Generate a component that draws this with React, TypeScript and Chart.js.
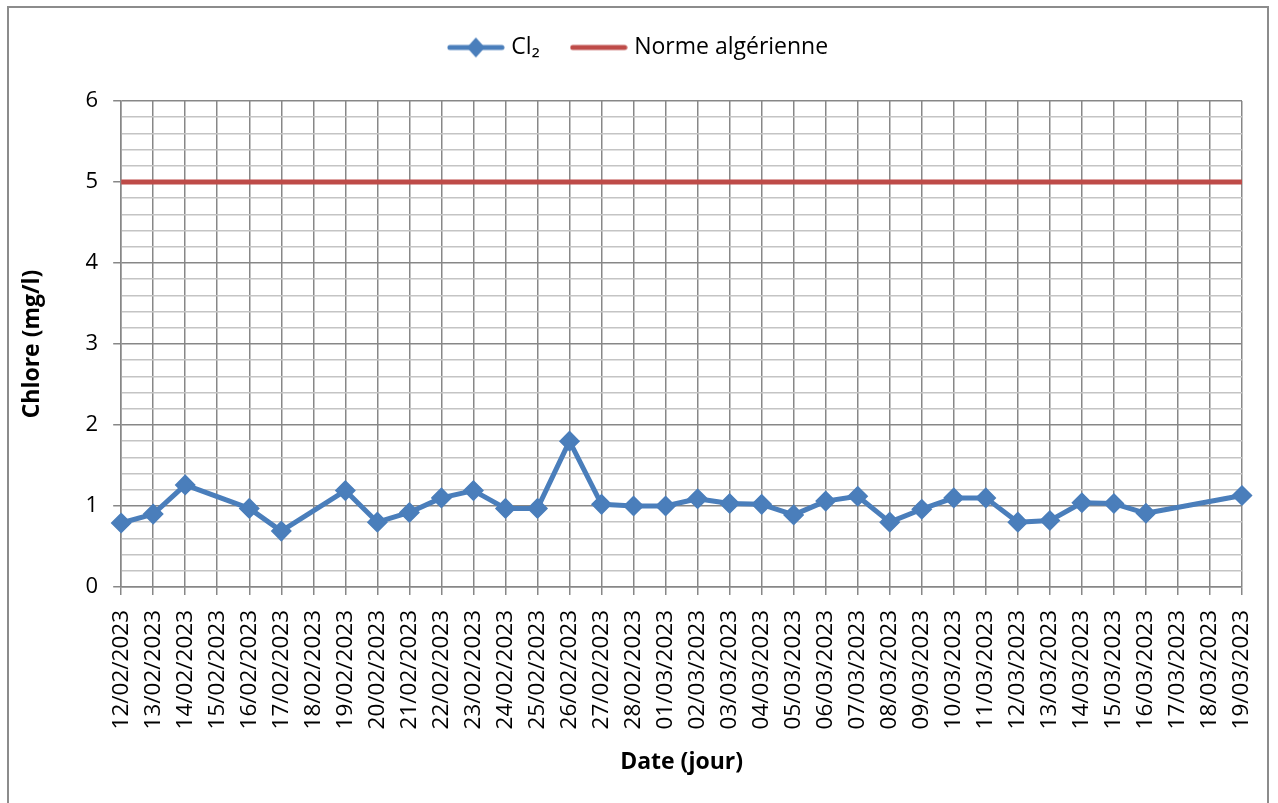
import React, { useEffect, useRef } from "react";
import { Chart, registerables } from "chart.js";

Chart.register(...registerables);

const dates: string[] = [
  "12/02/2023", "13/02/2023", "14/02/2023", "15/02/2023", "16/02/2023", "17/02/2023",
  "18/02/2023", "19/02/2023", "20/02/2023", "21/02/2023", "22/02/2023", "23/02/2023",
  "24/02/2023", "25/02/2023", "26/02/2023", "27/02/2023", "28/02/2023", "01/03/2023",
  "02/03/2023", "03/03/2023", "04/03/2023", "05/03/2023", "06/03/2023", "07/03/2023",
  "08/03/2023", "09/03/2023", "10/03/2023", "11/03/2023", "12/03/2023", "13/03/2023",
  "14/03/2023", "15/03/2023", "16/03/2023", "17/03/2023", "18/03/2023", "19/03/2023",
];

const chlore: (number | null)[] = [
  0.79, 0.9, 1.26, null, 0.97, 0.69,
  null, 1.19, 0.8, 0.92, 1.1, 1.19,
  0.97, 0.97, 1.8, 1.02, 1.0, 1.0,
  1.09, 1.03, 1.02, 0.89, 1.06, 1.12,
  0.8, 0.96, 1.1, 1.1, 0.8, 0.82,
  1.04, 1.03, 0.91, null, null, 1.13,
];

const normeAlgerienne: number[] = [
  5, 5, 5, 5, 5, 5,
  5, 5, 5, 5, 5, 5,
  5, 5, 5, 5, 5, 5,
  5, 5, 5, 5, 5, 5,
  5, 5, 5, 5, 5, 5,
  5, 5, 5, 5, 5, 5,
];

const seriesLabels = ["Cl\u2082", "Norme algérienne"];
const yTitle = "Chlore (mg/l)";
const xTitle = "Date (jour)";

const BLUE = "#4A7EBB";
const RED = "#BE4B48";
const GRID_DARK = "#878787";
const GRID_LIGHT = "#c4c4c4";
const FONT = "'Open Sans', 'DejaVu Sans', sans-serif";

function makeMarker(color: string, diamond: boolean): HTMLCanvasElement {
  const c = document.createElement("canvas");
  c.width = 58;
  c.height = 22;
  const g = c.getContext("2d")!;
  g.strokeStyle = color;
  g.lineWidth = 5;
  g.lineCap = "round";
  g.beginPath();
  g.moveTo(3, 11);
  g.lineTo(55, 11);
  g.stroke();
  if (diamond) {
    g.fillStyle = color;
    g.beginPath();
    g.moveTo(29, 1);
    g.lineTo(38, 11);
    g.lineTo(29, 21);
    g.lineTo(20, 11);
    g.closePath();
    g.fill();
  }
  return c;
}

const isMajor = (v: number) => Math.abs(v - Math.round(v)) < 1e-6;

const legendSpacer = {
  id: "legendSpacer",
  beforeInit(chart: any) {
    const legend = chart.legend;
    if (!legend) return;
    const origFit = legend.fit;
    legend.fit = function () {
      origFit.call(this);
      this.height += 32;
    };
  },
};

export default function App() {
  const ref = useRef<HTMLCanvasElement | null>(null);

  useEffect(() => {
    if (!ref.current) return;
    const markers = [makeMarker(BLUE, true), makeMarker(RED, false)];
    const chart = new Chart(ref.current, {
      type: "line",
      data: {
        labels: dates,
        datasets: [
          {
            label: seriesLabels[0],
            data: chlore,
            borderColor: BLUE,
            backgroundColor: BLUE,
            borderWidth: 5,
            borderCapStyle: "round",
            borderJoinStyle: "round",
            pointStyle: "rectRot",
            pointRadius: 9.5,
            pointBorderWidth: 1.5,
            pointBackgroundColor: BLUE,
            pointBorderColor: BLUE,
            spanGaps: true,
            tension: 0,
          },
          {
            label: seriesLabels[1],
            data: normeAlgerienne,
            borderColor: RED,
            backgroundColor: RED,
            borderWidth: 5,
            pointRadius: 0,
            tension: 0,
          },
        ],
      },
      plugins: [legendSpacer],
      options: {
        animation: false,
        responsive: false,
        maintainAspectRatio: false,
        layout: { padding: { left: 19, right: 17, top: 1, bottom: 27 } },
        plugins: {
          tooltip: { enabled: false },
          legend: {
            position: "top",
            align: "center",
            labels: {
              usePointStyle: true,
              pointStyleWidth: 48,
              padding: 35,
              color: "#000",
              font: { family: FONT, size: 23 },
              generateLabels: (ch: any) =>
                ch.data.datasets.map((ds: any, i: number) => ({
                  text: ds.label,
                  pointStyle: markers[i],
                  fillStyle: ds.borderColor,
                  strokeStyle: ds.borderColor,
                  lineWidth: 0,
                  hidden: false,
                  datasetIndex: i,
                })),
            },
          },
        },
        scales: {
          x: {
            offset: false,
            afterFit: (scale: any) => {
              scale.paddingRight = 36;
            },
            ticks: {
              autoSkip: false,
              minRotation: 90,
              maxRotation: 90,
              color: "#000",
              padding: 15,
              font: { family: FONT, size: 22.5 },
            },
            grid: {
              offset: false,
              color: GRID_DARK,
              lineWidth: 1.5,
              tickLength: 8,
              tickColor: GRID_DARK,
            },
            border: { color: GRID_DARK, width: 1.5 },
            title: {
              display: true,
              text: xTitle,
              color: "#000",
              font: { family: FONT, size: 23, weight: "bold" },
              padding: { top: 4, bottom: 0 },
            },
          },
          y: {
            min: 0,
            max: 6,
            ticks: {
              stepSize: 0.2,
              autoSkip: false,
              color: "#000",
              padding: 15,
              font: { family: FONT, size: 22 },
              callback: (v: any) => (isMajor(Number(v)) ? String(Math.round(Number(v))) : ""),
            },
            grid: {
              color: (c: any) => (isMajor(c.tick.value) ? GRID_DARK : GRID_LIGHT),
              lineWidth: 1.5,
              tickLength: 8,
              tickColor: (c: any) => (isMajor(c.tick.value) ? GRID_DARK : "rgba(0,0,0,0)"),
            },
            border: { color: GRID_DARK, width: 1.5 },
            title: {
              display: true,
              text: yTitle,
              color: "#000",
              font: { family: FONT, size: 23, weight: "bold" },
              padding: { top: 0, bottom: 24 },
            },
          },
        },
      },
    } as any);
    return () => chart.destroy();
  }, []);

  return (
    <div style={{ position: "absolute", left: 0, top: 0, width: 1278, height: 803, background: "#fff" }}>
      <canvas ref={ref} width={1278} height={803} style={{ position: "absolute", left: 0, top: 0, width: 1278, height: 803 }} />
      <div
        style={{
          position: "absolute",
          left: 7,
          top: 6,
          width: 1262,
          height: 800,
          border: "2px solid #8c8c8c",
          boxSizing: "border-box",
          pointerEvents: "none",
        }}
      />
    </div>
  );
}
